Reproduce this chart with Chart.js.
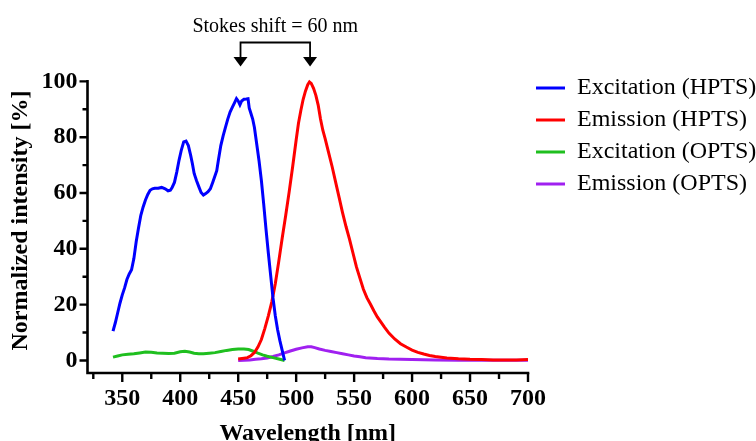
<!DOCTYPE html>
<html>
<head>
<meta charset="utf-8">
<script src="https://cdn.jsdelivr.net/npm/chart.js@4.4.1/dist/chart.umd.min.js"></script>
<style>
  html, body { margin: 0; padding: 0; background: #ffffff; }
  #wrap { width: 756px; height: 441px; position: relative; }
</style>
</head>
<body>
<div id="wrap"><canvas id="c" width="756" height="441"></canvas></div>
<script>
// ---------- DATA ----------
const seriesNames = ['Excitation (HPTS)', 'Emission (HPTS)', 'Excitation (OPTS)', 'Emission (OPTS)'];
const seriesColors = ['#0000ff', '#ff0000', '#1fbf1f', '#a020f0'];

const excHptsWl  = [342,344,346,348,350,352,354,356,358,360,362,364,366,368,370,372,374,376,378,381,384,387,389.5,391.5,393,395,397,399,401,403,405,407,409,410.5,412,414,416,418,420,422,424,426,428,430,431.5,433,435,437,439,441,443,445,447,448.5,450,451.5,453,455,457,458.5,459.5,461,462.5,464,466,468,470,472,474,476,478,480,482,484,486,488,490];
const excHptsVal = [10.5,13.5,17,20.5,23.5,26,29,31,32.5,36.5,42.5,47.5,52,55,57.5,59.5,61,61.5,61.7,61.7,62,61.5,60.8,61,62,63.8,67.5,71.8,75.5,78.3,78.6,77,73.5,70.5,67,64.5,62.3,60.2,59.3,59.8,60.5,61.5,63.8,66.2,68,72,77,80.5,83.5,86.5,89,90.8,92.5,93.8,93,91.6,93,93.6,93.7,93.8,90.5,88.5,86.5,83.5,77.5,71.5,64.5,56,47,38.5,30.5,22.5,16,11,7,3.5,0];

const emHptsWl  = [450,455,458,461,464,467,470,473,476,479,482,485,488,491,494,497,500,502,504,506,508,510,511.5,513,515,517,519,521,523,525,528,531,534,537,540,543,546,549,552,555,558,561,564,567,570,573,576,580,585,590,595,600,605,610,615,620,630,640,650,660,670,680,690,700];
const emHptsVal = [0.5,0.8,1.0,1.7,2.8,4.8,7.5,11.5,16,21,27.5,35.5,44,52,60.5,69.5,79,85,89.5,93.5,96.5,98.8,99.8,99.3,97.5,95,91.5,86.5,82.5,79.5,74.5,69.5,64,58.5,53,48,43.5,38.5,33.5,29.5,25.5,22.5,20.2,17.8,15.6,13.8,12,9.8,7.7,6,4.8,3.7,2.9,2.3,1.8,1.4,0.9,0.6,0.4,0.3,0.2,0.2,0.2,0.3];

const excOptsWl  = [342,346,350,355,360,365,370,375,380,385,390,395,400,404,408,412,416,420,425,430,435,440,445,450,455,459,463,467,471,475,480,485,490];
const excOptsVal = [1.2,1.6,2.0,2.2,2.4,2.7,3.0,2.9,2.7,2.6,2.5,2.6,3.1,3.3,3.0,2.6,2.4,2.4,2.6,2.8,3.2,3.6,3.9,4.1,4.1,3.9,3.3,2.6,2.0,1.5,1.0,0.5,0];

const emOptsWl  = [450,455,460,465,470,475,480,485,490,495,500,505,510,513,516,520,525,530,535,540,545,550,555,560,570,580,590,600,620,640,660,680,700];
const emOptsVal = [0,0.1,0.2,0.4,0.6,0.9,1.4,2.0,2.7,3.4,4.0,4.5,4.9,4.9,4.6,4.1,3.6,3.2,2.8,2.4,2.0,1.6,1.3,1.0,0.7,0.5,0.4,0.3,0.2,0.1,0.1,0.1,0.1];

const xMajorTicks = [350,400,450,500,550,600,650,700];
const xMinorTicks = [325,375,425,475,525,575,625,675];
const yMajorTicks = [0,20,40,60,80,100];
const yMinorTicks = [10,30,50,70,90];

const xTitle = 'Wavelength [nm]';
const yTitle = 'Normalized intensity [%]';
const annotationText = 'Stokes shift = 60 nm';
const excitationPeak = 452;
const emissionPeak = 512;

// ---------- BUILD ----------
function pairs(xs, ys) { return xs.map((v, i) => ({ x: v, y: ys[i] })); }
const allWl = [excHptsWl, emHptsWl, excOptsWl, emOptsWl];
const allVal = [excHptsVal, emHptsVal, excOptsVal, emOptsVal];

const datasets = seriesNames.map((name, i) => ({
  label: name,
  data: pairs(allWl[i], allVal[i]),
  borderColor: seriesColors[i],
  backgroundColor: seriesColors[i],
  borderWidth: 3,
  pointRadius: 0,
  pointHoverRadius: 0,
  tension: 0,
  fill: false
}));

const SERIF = '"Liberation Serif", "Times New Roman", serif';

const prismAxes = {
  id: 'prismAxes',
  afterDraw(chart) {
    const { ctx, chartArea, scales: { x, y } } = chart;
    const ax = chartArea.left, ay = chartArea.bottom;
    ctx.save();
    ctx.strokeStyle = '#000';
    ctx.lineWidth = 2.6;
    ctx.lineJoin = 'miter';
    ctx.lineCap = 'butt';
    ctx.beginPath();
    ctx.moveTo(ax, y.getPixelForValue(yMajorTicks[yMajorTicks.length - 1]) - 1.3);
    ctx.lineTo(ax, ay);
    ctx.lineTo(x.getPixelForValue(xMajorTicks[xMajorTicks.length - 1]) + 1.3, ay);
    ctx.stroke();
    ctx.lineWidth = 2.4;
    ctx.beginPath();
    yMajorTicks.forEach(v => { const p = y.getPixelForValue(v); ctx.moveTo(ax, p); ctx.lineTo(ax - 8, p); });
    yMinorTicks.forEach(v => { const p = y.getPixelForValue(v); ctx.moveTo(ax, p); ctx.lineTo(ax - 5, p); });
    xMajorTicks.forEach(v => { const p = x.getPixelForValue(v); ctx.moveTo(p, ay); ctx.lineTo(p, ay + 9); });
    xMinorTicks.forEach(v => { const p = x.getPixelForValue(v); ctx.moveTo(p, ay); ctx.lineTo(p, ay + 6); });
    ctx.stroke();
    ctx.restore();
  }
};

const stokesNote = {
  id: 'stokesNote',
  afterDraw(chart) {
    const { ctx, scales: { x } } = chart;
    const x1 = x.getPixelForValue(excitationPeak);
    const x2 = x.getPixelForValue(emissionPeak);
    ctx.save();
    ctx.fillStyle = '#000';
    ctx.strokeStyle = '#000';
    ctx.font = '20px ' + SERIF;
    ctx.textAlign = 'center';
    ctx.textBaseline = 'alphabetic';
    ctx.fillText(annotationText, (x1 + x2) / 2, 32);
    ctx.lineWidth = 1.8;
    ctx.beginPath();
    ctx.moveTo(x1, 58); ctx.lineTo(x1, 42.5); ctx.lineTo(x2, 42.5); ctx.lineTo(x2, 58);
    ctx.stroke();
    [x1, x2].forEach(px => {
      ctx.beginPath();
      ctx.moveTo(px - 7, 57); ctx.lineTo(px + 7, 57); ctx.lineTo(px, 66.5); ctx.closePath();
      ctx.fill();
    });
    ctx.restore();
  }
};

new Chart(document.getElementById('c'), {
  type: 'line',
  data: { datasets },
  plugins: [prismAxes, stokesNote],
  options: {
    responsive: false,
    animation: false,
    devicePixelRatio: 1,
    layout: { padding: { top: 68, left: 0, right: 0, bottom: 0 } },
    plugins: {
      tooltip: { enabled: false },
      legend: {
        display: true,
        position: 'right',
        align: 'start',
        maxWidth: 228,
        labels: {
          boxWidth: 29,
          boxHeight: 3,
          padding: 8,
          color: '#000',
          font: { family: SERIF, size: 24, weight: 'normal' },
          generateLabels(chart) {
            return Chart.defaults.plugins.legend.labels.generateLabels(chart).map(l => {
              l.lineWidth = 0;
              l.fillStyle = seriesColors[l.datasetIndex];
              return l;
            });
          }
        }
      }
    },
    scales: {
      x: {
        type: 'linear',
        min: 320,
        max: 700,
        afterFit(scale) { scale.height = 68; },
        afterBuildTicks(scale) { scale.ticks = xMajorTicks.map(v => ({ value: v })); },
        grid: { display: false, drawTicks: false },
        border: { display: false },
        ticks: {
          autoSkip: false, maxRotation: 0, padding: 11, color: '#000',
          font: { family: SERIF, size: 24, weight: 'bold' },
          callback: v => String(v)
        },
        title: {
          display: true, text: xTitle, color: '#000',
          font: { family: SERIF, size: 24, weight: 'bold' },
          padding: { top: 0, bottom: -7 }
        }
      },
      y: {
        type: 'linear',
        min: -4.5,
        max: 104.8,
        afterFit(scale) { scale.width = 87.5; },
        afterBuildTicks(scale) { scale.ticks = yMajorTicks.map(v => ({ value: v })); },
        grid: { display: false, drawTicks: false },
        border: { display: false },
        ticks: {
          autoSkip: false, padding: 10, color: '#000',
          font: { family: SERIF, size: 24, weight: 'bold' },
          callback: v => String(v)
        },
        title: {
          display: true, text: yTitle, color: '#000',
          font: { family: SERIF, size: 24, weight: 'bold' },
          padding: { top: 6.5, bottom: 0 }
        }
      }
    }
  }
});
</script>
</body>
</html>
